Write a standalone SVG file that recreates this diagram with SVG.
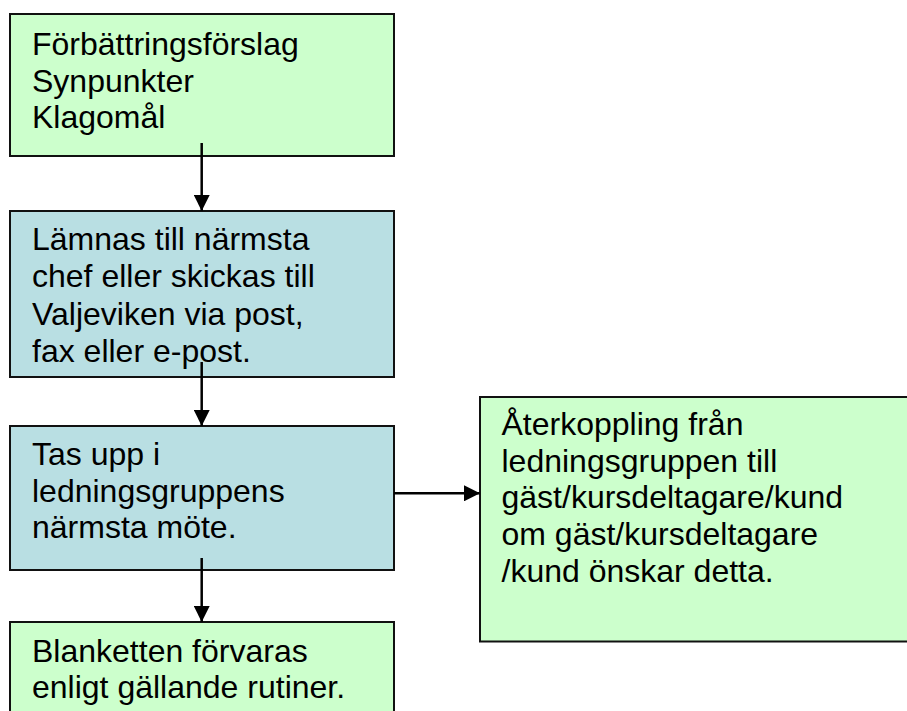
<svg xmlns="http://www.w3.org/2000/svg" width="907" height="711" viewBox="0 0 907 711">
<style>
.g{fill:#CCFFCC;stroke:#111;stroke-width:2}
.b{fill:#B9DFE3;stroke:#111;stroke-width:2}
text{font-family:"Liberation Sans",Arial,sans-serif;font-size:32px;fill:#000}
.c{stroke:#000;stroke-width:2.5;fill:none}
</style>
<defs>
<marker id="ah" viewBox="0 0 16 16" refX="16" refY="8" markerWidth="16" markerHeight="16" markerUnits="userSpaceOnUse" orient="auto">
<path d="M0,0 L16,8 L0,16 z" fill="#000"/>
</marker>
</defs>
<rect width="907" height="711" fill="#fff"/>
<g id="n1"><rect class="g" x="10" y="14" width="384" height="142"/>
<text x="32" y="55">Förbättringsförslag</text><text x="32" y="92">Synpunkter</text><text x="32" y="128">Klagomål</text></g>
<g id="n2"><rect class="b" x="10" y="211" width="384" height="166"/>
<text x="32" y="250">Lämnas till närmsta</text><text x="32" y="287">chef eller skickas till</text><text x="32" y="325">Valjeviken via post,</text><text x="32" y="361.5">fax eller e-post.</text></g>
<g id="n3"><rect class="b" x="10" y="426" width="384" height="144"/>
<text x="32" y="465">Tas upp i</text><text x="32" y="501.5">ledningsgruppens</text><text x="32" y="538">närmsta möte.</text></g>
<g id="n4"><rect class="g" x="10" y="622" width="384" height="100"/>
<text x="32" y="661.5">Blanketten förvaras</text><text x="32" y="698">enligt gällande rutiner.</text></g>
<g id="n5"><rect class="g" x="480" y="397" width="440" height="244.5"/>
<text x="501.5" y="435">Återkoppling från</text><text x="501.5" y="471.5">ledningsgruppen till</text><text x="501.5" y="508">gäst/kursdeltagare/kund</text><text x="501.5" y="545">om gäst/kursdeltagare</text><text x="501.5" y="581.5">/kund önskar detta.</text></g>
<g id="connectors">
<line class="c" x1="201.7" y1="143" x2="201.7" y2="211" marker-end="url(#ah)"/>
<line class="c" x1="201.7" y1="362" x2="201.7" y2="426" marker-end="url(#ah)"/>
<line class="c" x1="201.7" y1="558" x2="201.7" y2="622" marker-end="url(#ah)"/>
<line class="c" x1="394" y1="493.3" x2="480" y2="493.3" marker-end="url(#ah)"/>
</g>
</svg>
